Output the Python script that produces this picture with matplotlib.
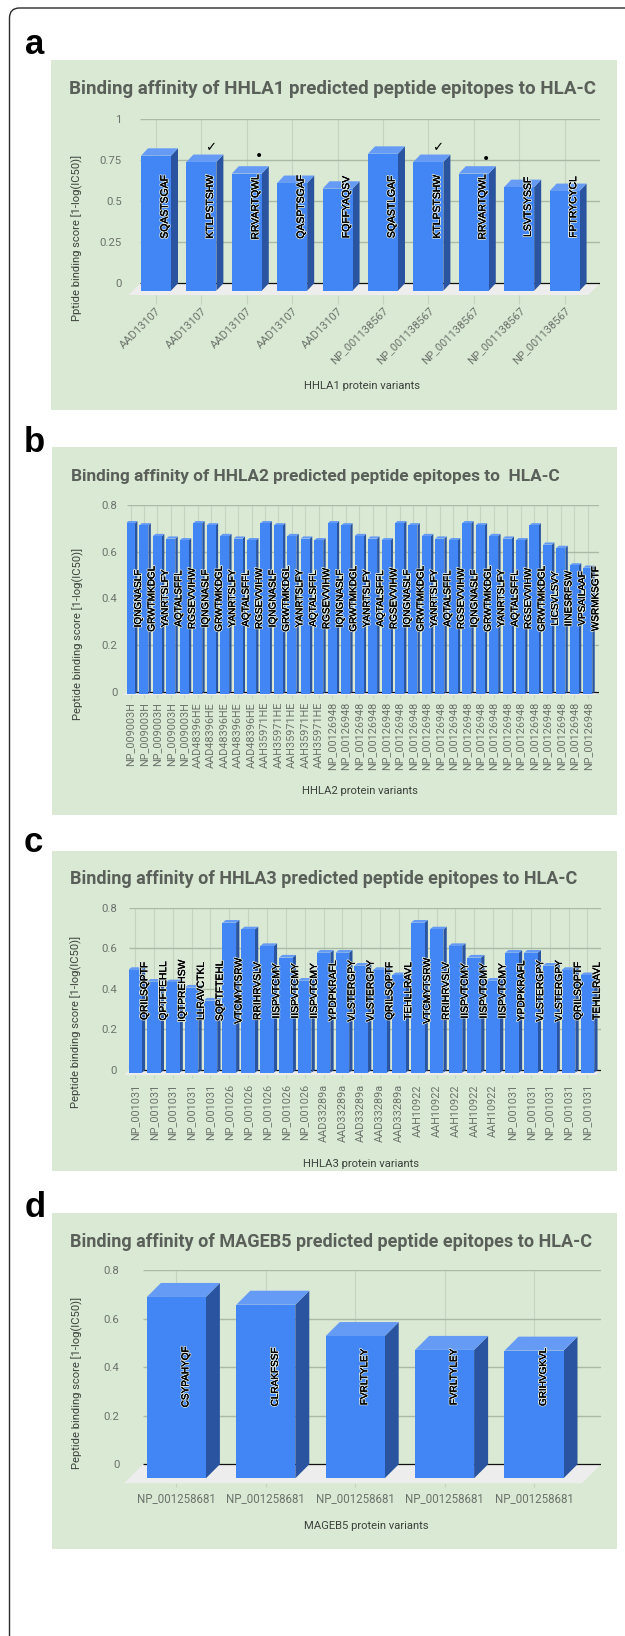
import matplotlib
matplotlib.use("Agg")
import matplotlib.pyplot as plt
import matplotlib.patheffects as pe
from matplotlib.patches import Polygon, Rectangle, FancyBboxPatch

W, H = 625, 1636

# panel a
a_variants = ["AAD13107"] * 5 + ["NP_001138567"] * 5
a_peptides = ["SQASTSGAF", "KTLPSTSHW", "RRVARTQWL", "QASPTSGAF", "FQFFYAQSV",
              "SQASTLGAF", "KTLPSTSHW", "RRVARTQWL", "LSVTSYSSF", "FPTRYCYCL"]
a_scores = [0.778, 0.740, 0.669, 0.612, 0.577, 0.790, 0.740, 0.669, 0.587, 0.563]
a_ticks = [0, 0.25, 0.5, 0.75, 1]
a_ticklabels = ["0", "0.25", "0.5", "0.75", "1"]

# panel b
b_variants = ["NP_009003H"] * 5 + ["AAD48396HE"] * 5 + ["AAH35971HE"] * 5 + ["NP_00126948"] * 20
b_peptides = ["IQNGNASLF", "GRWTMKDGL", "YANRTSLFY", "AQTALSFFL", "RGSEVVIHW"] * 6 + \
             ["GRWTMKDGL", "LICSVLSVY", "IINESRFSW", "VPSAILAAF", "WSRMKSGTF"]
b_scores = [0.723, 0.714, 0.668, 0.657, 0.650] * 6 + [0.714, 0.631, 0.617, 0.542, 0.532]

# panel c
c_variants = ["NP_001031"] * 5 + ["NP_001026"] * 5 + ["AAD33289a"] * 5 + ["AAH10922"] * 5 + ["NP_001031"] * 5
c_peptides = ["QRILSQPTF", "QPTFTEHLL", "IQTPREHSW", "LLRAVCTKL", "SQPTFTEHL",
              "VTCMYTSRW", "RRIHRVSLV", "IISPVTCMY", "IISPVTCMY", "IISPVTCMY",
              "YPDPKRAFL", "VLSTERGPY", "VLSTERGPY", "QRILSQPTF", "TEHLLRAVL",
              "VTCMYTSRW", "RRIHRVSLV", "IISPVTCMY", "IISPVTCMY", "IISPVTCMY",
              "YPDPKRAFL", "VLSTERGPY", "VLSTERGPY", "QRILSQPTF", "TEHLLRAVL"]
c_scores = [0.493, 0.435, 0.432, 0.406, 0.342, 0.726, 0.693, 0.611, 0.554, 0.440,
            0.578, 0.578, 0.514, 0.493, 0.467, 0.726, 0.693, 0.611, 0.554, 0.440,
            0.578, 0.578, 0.514, 0.493, 0.467]

# panel d
d_variants = ["NP_001258681"] * 5
d_peptides = ["CSYPAHYQF", "CLRAKFSSF", "FVRLTYLEY", "FVRLTYLEY", "GRIHVGKVL"]
d_scores = [0.689, 0.657, 0.528, 0.471, 0.468]

small_ticks = [0, 0.2, 0.4, 0.6, 0.8]
small_ticklabels = ["0", "0.2", "0.4", "0.6", "0.8"]

GREEN = "#d9e9d3"
FRONT = "#4285f4"
SIDE = "#2a549f"
TOP = "#659bf5"
FLOOR = "#ededed"
HGRID = "#a9bba6"
VGRID = "#c4d4c0"
GRAY = "#6d726c"
DARK = "#3d413d"
TITLE = "#5a5f5a"

plt.rcParams["font.family"] = ["Roboto", "DejaVu Sans"]

fig = plt.figure(figsize=(W / 100, H / 100), dpi=100)
fig.patch.set_facecolor("white")

# page layer in pixel coordinates
bg = fig.add_axes([0, 0, 1, 1])
bg.set_xlim(0, W)
bg.set_ylim(H, 0)
bg.axis("off")
bg.add_patch(FancyBboxPatch((9.5, 8), 800, 1800, boxstyle="round,pad=0,rounding_size=10",
                            ec="#2b2b2b", fc="none", lw=1.0))
for letter, x, y in [("a", 25, 54), ("b", 24, 452), ("c", 24, 852), ("d", 25, 1217)]:
    bg.text(x, y, letter, fontsize=25, fontweight="bold", family="Liberation Sans",
            color="black", va="baseline", ha="left")


def chart(box, top_px, zero_px, right_px, left_px, x0, step, width, depth, floor, ymax,
          variants, peptides, scores, ticks, ticklabels, title, title_x, title_size, title_y,
          ylabel, ylabel_x, ylabel_y, xlabel, xlabel_x, xlabel_y, tick_rot, tick_len,
          tick_pad, ytick_pad, label_dx, label_y, label_size, tick_size):
    px, py, px2, py2 = box
    bg.add_patch(Rectangle((px, py), px2 - px, py2 - py, fc=GREEN, ec="none"))
    bg.text(title_x, title_y, title, fontsize=title_size, fontweight="bold", color=TITLE, va="center", ha="left")
    bg.text(ylabel_x, ylabel_y, ylabel, fontsize=8.1, color=DARK, rotation=90, va="center", ha="center")
    bg.text(xlabel_x, xlabel_y, xlabel, fontsize=8.1, color=DARK, va="center", ha="center")

    scale = (zero_px - top_px) / ymax
    floor_dx, floor_dy = floor
    bottom_px = zero_px + floor_dy
    ax = fig.add_axes([left_px / W, 1 - bottom_px / H, (right_px - left_px) / W, (bottom_px - top_px) / H])
    ax.patch.set_alpha(0)
    ax.set_xlim((left_px - x0) / step, (right_px - x0) / step)
    ax.set_ylim(-floor_dy / scale, ymax)
    for s in ax.spines.values():
        s.set_visible(False)

    xl, xr = ax.get_xlim()
    fdx = floor_dx / step
    fdy = floor_dy / scale
    ax.add_patch(Polygon([(xl, 0), (xr, 0), (xr - fdx, -fdy), (xl - fdx, -fdy)], fc=FLOOR, ec="none",
                         clip_on=False, zorder=2))
    for t in ticks[1:]:
        ax.plot([xl, xr], [t, t], color=HGRID, lw=1.0, zorder=1.5, solid_capstyle="butt")
    ax.plot([xl, xr], [0, 0], color="#111111", lw=0.9, zorder=3, solid_capstyle="butt")

    xs = list(range(len(scores)))
    for x in xs:
        ax.plot([x, x], [-fdy, ymax], color=VGRID, lw=0.8, zorder=1)

    ddx = depth[0] / step
    ddy = depth[1] / scale
    for x, v, pep in zip(xs, scores, peptides):
        x1 = x - width / 2
        x2 = x + width / 2
        ax.add_patch(Polygon([(x2, -ddy), (x2 + ddx, 0), (x2 + ddx, v + ddy), (x2, v)], fc=SIDE, ec="none", zorder=4))
        ax.add_patch(Polygon([(x1, v), (x2, v), (x2 + ddx, v + ddy), (x1 + ddx, v + ddy)], fc=TOP, ec="none", zorder=4))
        ax.bar(x, v + ddy, width=width, bottom=-ddy, color=FRONT, zorder=4)
    for x, pep in zip(xs, peptides):
        ax.text(x + label_dx / step, label_y, pep, rotation=90, ha="center", va="center", color="#000000",
                fontsize=label_size, family="Liberation Sans", zorder=10,
                path_effects=[pe.withStroke(linewidth=1.4, foreground="#dfe8dc"),
                              pe.withStroke(linewidth=0.08, foreground="#000000")])

    ax.set_yticks(ticks, ticklabels)
    ax.tick_params(axis="y", length=0, pad=ytick_pad, labelcolor=GRAY, labelsize=8.2)
    ax.set_xticks(xs)
    ax.set_xticklabels(variants, rotation=tick_rot, ha="right" if tick_rot == 45 else "center",
                       va="top", rotation_mode="anchor" if tick_rot == 45 else "default")
    ax.tick_params(axis="x", length=tick_len, width=0.8, color=VGRID, pad=tick_pad, labelcolor=GRAY, labelsize=tick_size)
    return ax


ax_a = chart((51, 60, 617, 409.5), 119.3, 283.3, 600, 140, 156, 45.4, 0.66, (7, 7.4), (11.5, 11.7), 1,
             a_variants, a_peptides, a_scores, a_ticks, a_ticklabels,
             "Binding affinity of HHLA1 predicted peptide epitopes to HLA-C", 69, 13.5, 89,
             "Pptide binding score [1-log(IC50)]", 77, 238,
             "HHLA1 protein variants", 362.5, 386, 45, 6.5, 1, 13, 8.6, 0.465, 7.5, 8.0)
# check marks and dots above the bars
for i, dy in [(1, 0.085), (6, 0.085)]:
    ax_a.text(i + 0.2, a_scores[i] + dy, "\u2713", ha="center", va="center", fontsize=9.5, color="black",
              family="DejaVu Sans", zorder=11)
for i, dy in [(2, 0.106), (7, 0.09)]:
    ax_a.text(i + 0.26, a_scores[i] + dy, "\u2022", ha="center", va="center", fontsize=10, color="black",
              family="DejaVu Sans", zorder=11)

chart((52, 447, 617, 815), 505.3, 691.7, 599, 127, 130.5, 13.45, 0.67, (2.4, 2.2), (4, 3.3), 0.8,
      b_variants, b_peptides, b_scores, small_ticks, small_ticklabels,
      "Binding affinity of HHLA2 predicted peptide epitopes to  HLA-C", 71, 12.45, 476,
      "Peptide binding score [1-log(IC50)]", 78, 634,
      "HHLA2 protein variants", 360, 791, 90, 2, 3, 7, 7.5, 0.4, 7.2, 7.8)

chart((52, 851, 617, 1171), 907.7, 1070, 601, 129, 135, 18.85, 0.725, (3.3, 2.7), (4.5, 5), 0.8,
      c_variants, c_peptides, c_scores, small_ticks, small_ticklabels,
      "Binding affinity of HHLA3 predicted peptide epitopes to HLA-C", 70, 13.0, 879.3,
      "Peptide binding score [1-log(IC50)]", 76.7, 1022,
      "HHLA3 protein variants", 361, 1164, 90, 2, 4.5, 8.6, 9.3, 0.39, 7.4, 7.8)

chart((52, 1213, 617, 1549), 1270, 1464.3, 601, 143, 176.4, 89.4, 0.66, (14, 14), (19, 19), 0.8,
      d_variants, d_peptides, d_scores, small_ticks, small_ticklabels,
      "Binding affinity of MAGEB5 predicted peptide epitopes to HLA-C", 70, 12.95, 1241.7,
      "Peptide binding score [1-log(IC50)]", 77.5, 1383,
      "MAGEB5 protein variants", 366, 1525.7, 0, 3, 3.5, 17, 9, 0.36, 7.2, 8.3)

fig.savefig("out.png", dpi=100)
